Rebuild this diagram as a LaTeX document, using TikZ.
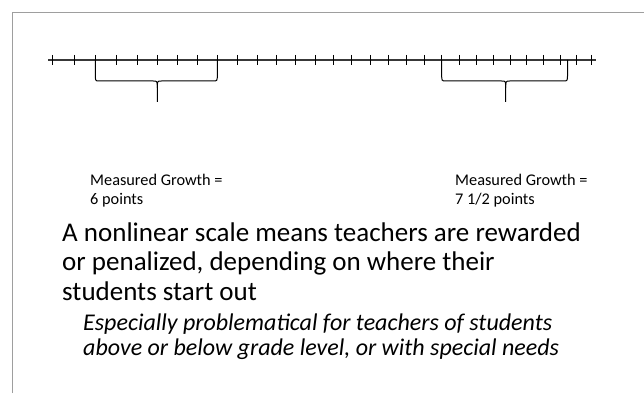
\documentclass[tikz,border=0pt]{standalone}
\usepackage{fontspec}
\setmainfont{Carlito}
\begin{document}
\begin{tikzpicture}[x=1pt,y=-1pt,
  frameline/.style={draw=black!38,line width=1.1pt},
  scaleline/.style={draw=black!78,line width=2.3pt},
  tickline/.style={draw=black,line width=0.8pt},
  bracepath/.style={draw=black,line width=1pt,line join=round},
  smalltxt/.style={anchor=base west,inner sep=0pt,font=\fontsize{16.3}{18.5}\selectfont,align=left},
  bigtxt/.style={anchor=base west,inner sep=0pt,font=\fontsize{27}{29.5}\selectfont,align=left},
  ittxt/.style={anchor=base west,inner sep=0pt,font=\fontsize{24}{24.5}\selectfont\itshape,align=left}]
\useasboundingbox (0,0) rectangle (644,393);
% frame
\draw[frameline] (12.5,393) -- (12.5,12.7) -- (644,12.7);
% scale
\coordinate (sL) at (48,60);
\coordinate (sR) at (596,60);
\draw[scaleline] (sL) -- (sR);
\foreach \t in {52.7,74,95.3,116.7,137.3,157.3,177.3,197.3,217.3,237.3,257.3,276.7,295.3,315,333.3,351.7,370,388.3,406,424,441.7,459,476,493.3,510,526.7,543.3,560,576.7,591.7}
  \draw[tickline] (\t,55) -- (\t,65);
% braces
\newcommand{\mybrace}[3]{%
  \draw[bracepath] (#1,60) -- (#1,74) .. controls (#1,81) and (#1,81) .. (#1+4,81) -- (#3-4,81) .. controls (#3,81) and (#3,81) .. (#3,88) -- (#3,102);
  \draw[bracepath] (#2,60) -- (#2,74) .. controls (#2,81) and (#2,81) .. (#2-4,81) -- (#3+4,81) .. controls (#3,81) and (#3,81) .. (#3,88);
}
\mybrace{95.3}{217.3}{157.3}
\mybrace{441.7}{567.5}{505.7}
% labels
\node[smalltxt] (g1) at (90,204) {Measured Growth =\\6 points};
\node[smalltxt] (g2) at (455,204) {Measured Growth =\\7 1/2 points};
\node[bigtxt] (main) at (62,300) {A nonlinear scale means teachers are rewarded\\or penalized, depending on where their\\students start out};
\node[ittxt] (sub) at (83,355) {Especially problematical for teachers of students\\above or below grade level, or with special needs};
\end{tikzpicture}
\end{document}
